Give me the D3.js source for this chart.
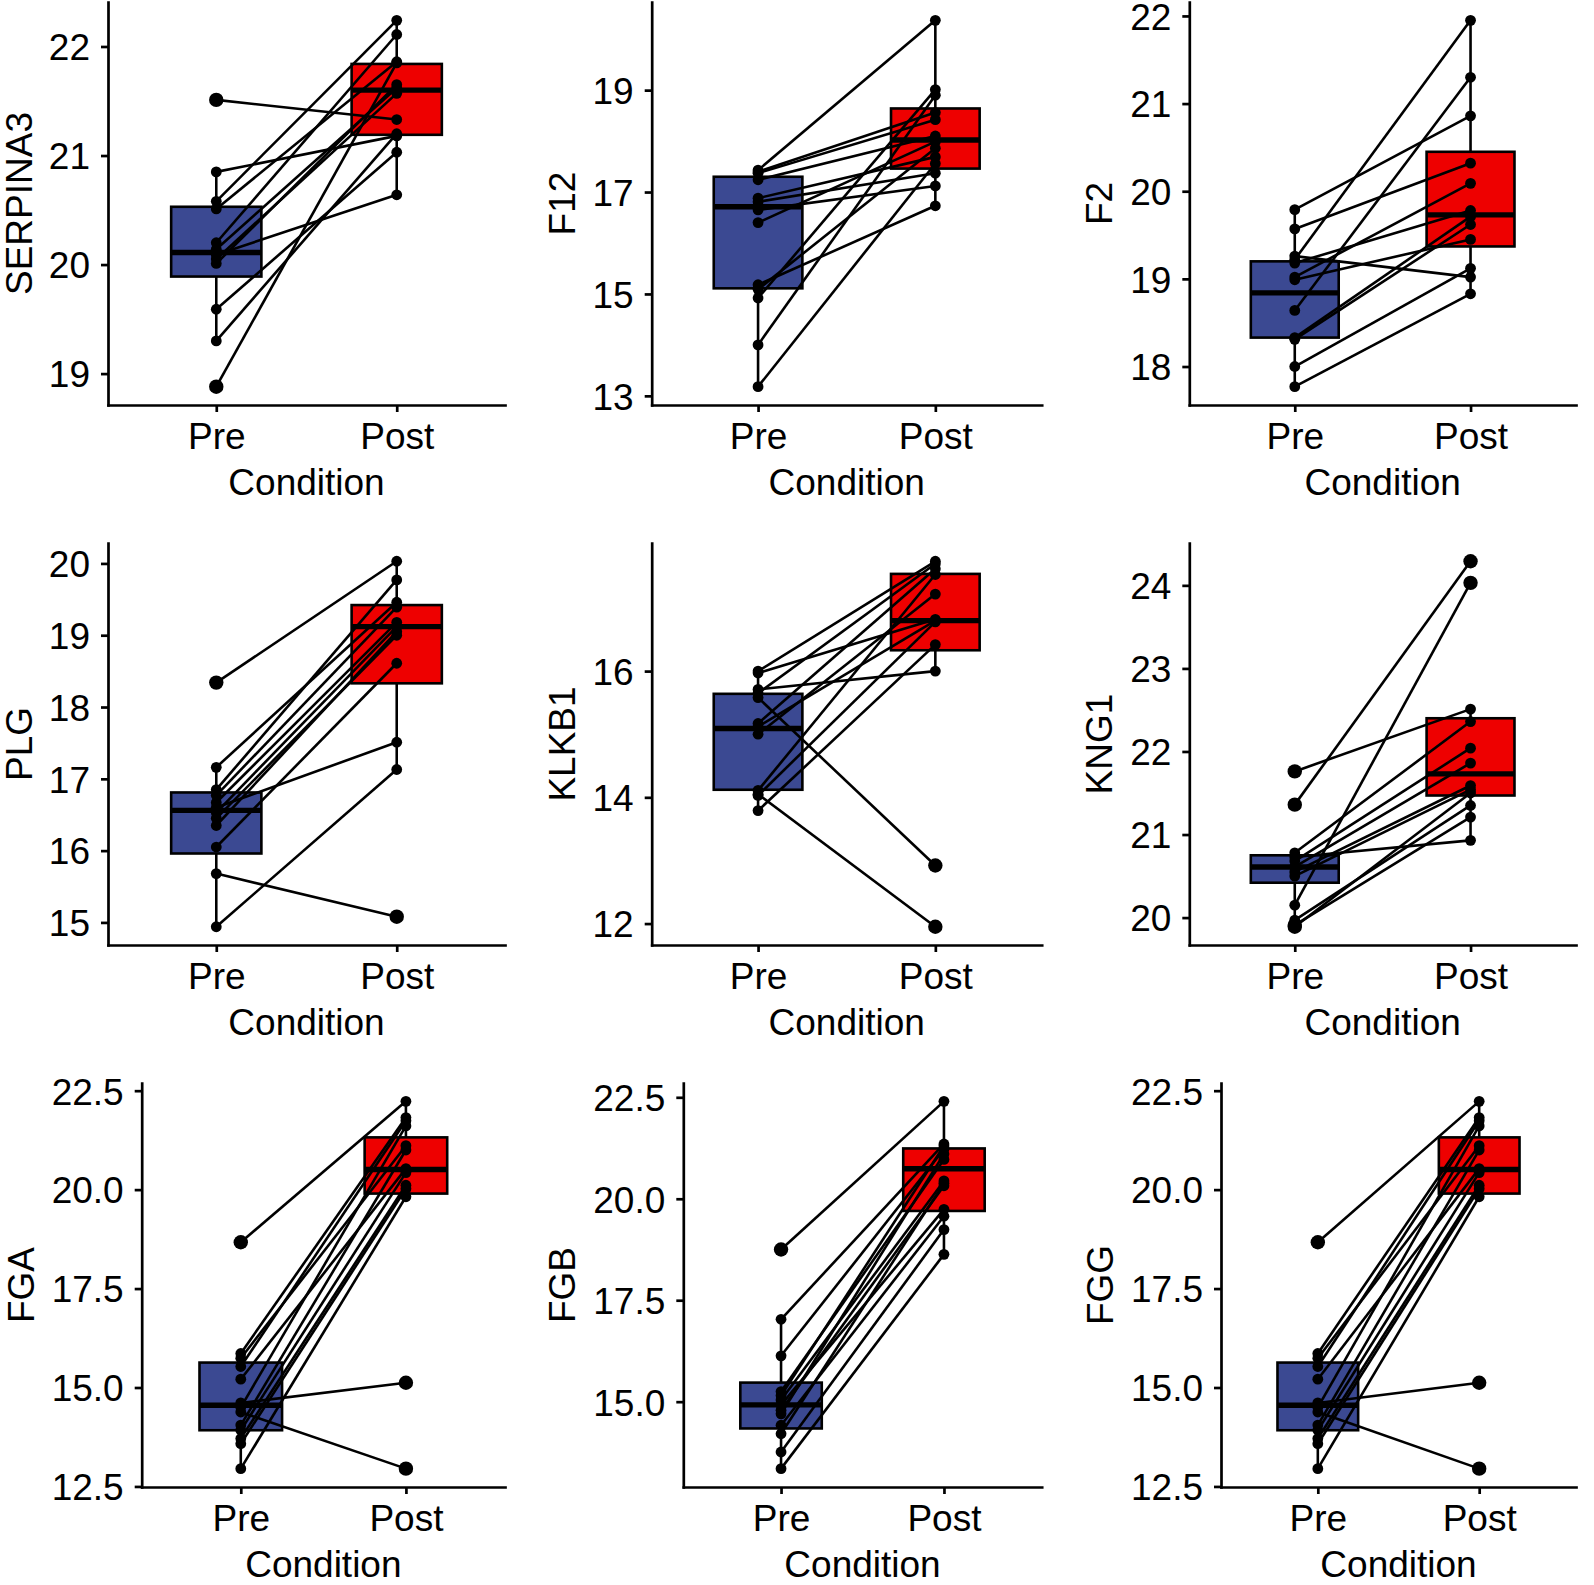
<!DOCTYPE html>
<html>
<head>
<meta charset="utf-8">
<script src="https://cdn.jsdelivr.net/npm/d3@7"></script>
<style>
  body { margin: 0; background: #fff; }
  svg { display: block; font-family: "Liberation Sans", Arial, sans-serif; }
</style>
</head>
<body>
<svg id="chart" width="1594" height="1585"></svg>
<script>
// values, one pair of arrays per protein (same subject order pre/post)
var conditions = ["Pre", "Post"];
var proteins = ["SERPINA3", "F12", "F2", "PLG", "KLKB1", "KNG1", "FGA", "FGB", "FGG"];
var fills = ["#3B4992", "#EE0000"];

var serpina3Pre  = [21.51, 20.85, 20.58, 20.51, 20.20, 20.14, 20.09, 20.05, 20.01, 19.59, 19.30, 18.88];
var serpina3Post = [21.33, 21.18, 22.24, 21.86, 22.11, 21.62, 20.64, 21.57, 21.65, 21.03, 21.20, 21.85];

var f12Pre  = [17.43, 17.40, 17.37, 17.24, 16.88, 16.81, 16.65, 16.40, 15.18, 15.09, 14.92, 14.00, 13.18];
var f12Post = [20.37, 18.56, 18.42, 18.10, 17.69, 17.37, 17.12, 17.99, 16.73, 17.86, 19.01, 18.90, 17.56];

var f2Pre  = [19.79, 19.57, 19.26, 19.22, 19.18, 19.02, 18.99, 18.64, 18.33, 18.31, 18.00, 17.77];
var f2Post = [20.86, 20.32, 19.02, 21.95, 19.78, 20.09, 19.45, 21.30, 19.71, 19.62, 19.12, 18.83];

var plgPre  = [18.34, 17.16, 16.85, 16.77, 16.67, 16.60, 16.53, 16.45, 16.35, 16.05, 15.68, 14.94];
var plgPost = [20.03, 19.46, 19.77, 19.39, 19.18, 17.51, 19.12, 19.00, 19.05, 18.61, 15.08, 17.13];

var klkb1Pre  = [16.00, 15.97, 15.71, 15.65, 15.58, 15.17, 15.12, 15.00, 14.11, 14.05, 14.03, 13.79];
var klkb1Post = [17.74, 16.82, 16.00, 17.70, 12.92, 17.62, 16.80, 17.22, 17.53, 11.95, 16.78, 16.42];

var kng1Pre  = [21.76, 21.36, 20.78, 20.73, 20.68, 20.61, 20.55, 20.50, 20.15, 19.97, 19.91, 19.89];
var kng1Post = [22.51, 24.29, 22.36, 20.93, 22.04, 21.86, 21.59, 21.54, 24.03, 21.35, 21.21, 21.50];

var fgaPre  = [18.67, 15.86, 15.74, 15.53, 15.21, 14.61, 14.50, 14.38, 14.05, 13.92, 13.71, 13.58, 12.95];
var fgaPost = [22.23, 21.82, 21.11, 21.74, 20.53, 15.12, 21.61, 12.95, 21.00, 20.43, 20.11, 20.02, 19.82];

var fgbPre  = [18.75, 17.03, 16.13, 15.25, 15.15, 15.04, 14.92, 14.79, 14.70, 14.42, 14.21, 13.76, 13.35];
var fgbPost = [22.40, 21.35, 21.22, 20.97, 21.30, 20.44, 19.74, 20.32, 21.10, 19.57, 20.38, 19.24, 18.63];

var fggPre  = [18.67, 15.86, 15.74, 15.53, 15.21, 14.61, 14.50, 14.38, 14.05, 13.92, 13.71, 13.58, 12.95];
var fggPost = [22.23, 21.82, 21.11, 21.74, 20.53, 15.12, 21.61, 12.95, 21.00, 20.43, 20.11, 20.02, 19.82];

// box hinges as drawn [lower hinge, median, upper hinge], Pre then Post
var serpina3Box = [[19.89, 20.11, 20.53], [21.19, 21.60, 21.84]];
var f12Box      = [[15.11, 16.71, 17.30], [17.46, 18.02, 18.64]];
var f2Box       = [[18.33, 18.84, 19.20], [19.37, 19.73, 20.45]];
var plgBox      = [[15.96, 16.56, 16.81], [18.33, 19.12, 19.42]];
var klkb1Box    = [[14.12, 15.09, 15.64], [16.33, 16.80, 17.54]];
var kng1Box     = [[20.42, 20.61, 20.75], [21.47, 21.73, 22.40]];
var fgaBox      = [[13.92, 14.55, 15.63], [19.90, 20.51, 21.32]];
var fgbBox      = [[14.34, 14.92, 15.47], [19.70, 20.74, 21.24]];
var fggBox      = [[13.92, 14.55, 15.63], [19.90, 20.51, 21.32]];

var serpina3Ticks = [19, 20, 21, 22];
var f12Ticks      = [13, 15, 17, 19];
var f2Ticks       = [18, 19, 20, 21, 22];
var plgTicks      = [15, 16, 17, 18, 19, 20];
var klkb1Ticks    = [12, 14, 16];
var kng1Ticks     = [20, 21, 22, 23, 24];
var fgaTicks      = [12.5, 15.0, 17.5, 20.0, 22.5];
var fgbTicks      = [15.0, 17.5, 20.0, 22.5];
var fggTicks      = [12.5, 15.0, 17.5, 20.0, 22.5];

var allPre   = [serpina3Pre, f12Pre, f2Pre, plgPre, klkb1Pre, kng1Pre, fgaPre, fgbPre, fggPre];
var allPost  = [serpina3Post, f12Post, f2Post, plgPost, klkb1Post, kng1Post, fgaPost, fgbPost, fggPost];
var allBox   = [serpina3Box, f12Box, f2Box, plgBox, klkb1Box, kng1Box, fgaBox, fgbBox, fggBox];
var allTicks = [serpina3Ticks, f12Ticks, f2Ticks, plgTicks, klkb1Ticks, kng1Ticks, fgaTicks, fgbTicks, fggTicks];
var decimalTicks = [false, false, false, false, false, false, true, true, true];

// panel geometry
var plotLeft  = [[108, 651.7, 1189.3], [108, 651.7, 1189.3], [141.7, 683.3, 1221]];
var plotRight = [505, 1041.7, 1576];
var plotTop    = [2, 543, 1083];
var plotBottom = [405, 945, 1487];
var fontSize = 37;

var svg = d3.select("#chart");

var drawPanel = function(p) {
    var row = Math.floor(p / 3), col = p % 3;
    var left = plotLeft[row][col], right = plotRight[col];
    var top = plotTop[row], bottom = plotBottom[row];
    var pre = allPre[p], post = allPost[p];
    var series = [pre, post];

    var x = d3.scalePoint()
        .domain(conditions)
        .range([left, right])
        .padding(0.6);

    var ext = d3.extent(pre.concat(post));
    var pad = (ext[1] - ext[0]) * 0.05;
    var y = d3.scaleLinear()
        .domain([ext[0] - pad, ext[1] + pad])
        .range([bottom, top]);

    var g = svg.append("g").attr("class", "panel");
    var boxW = x.step() * 0.5;

    // boxplots
    conditions.forEach(function(c, i) {
        var vals = series[i];
        var q1 = allBox[p][i][0], med = allBox[p][i][1], q3 = allBox[p][i][2];
        var iqr = q3 - q1;
        var lo = q1 - 1.5 * iqr, hi = q3 + 1.5 * iqr;
        var inside = vals.filter(function(v) { return v >= lo && v <= hi; });
        var outliers = vals.filter(function(v) { return v < lo || v > hi; });
        var cx = x(c);

        g.append("line")
            .attr("x1", cx).attr("x2", cx)
            .attr("y1", y(q3)).attr("y2", y(d3.max(inside)))
            .attr("stroke", "#000").attr("stroke-width", 2.6);
        g.append("line")
            .attr("x1", cx).attr("x2", cx)
            .attr("y1", y(q1)).attr("y2", y(d3.min(inside)))
            .attr("stroke", "#000").attr("stroke-width", 2.6);

        g.append("rect")
            .attr("x", cx - boxW / 2)
            .attr("y", y(q3))
            .attr("width", boxW)
            .attr("height", y(q1) - y(q3))
            .attr("fill", fills[i])
            .attr("stroke", "#000")
            .attr("stroke-width", 2.6);

        g.append("line")
            .attr("x1", cx - boxW / 2).attr("x2", cx + boxW / 2)
            .attr("y1", y(med)).attr("y2", y(med))
            .attr("stroke", "#000").attr("stroke-width", 5.4);

        g.selectAll(null)
            .data(outliers)
            .enter().append("circle")
            .attr("cx", cx)
            .attr("cy", function(d) { return y(d); })
            .attr("r", 7.2)
            .attr("fill", "#000");
    });

    // paired lines
    g.selectAll(null)
        .data(d3.range(pre.length))
        .enter().append("line")
        .attr("x1", x("Pre")).attr("x2", x("Post"))
        .attr("y1", function(i) { return y(pre[i]); })
        .attr("y2", function(i) { return y(post[i]); })
        .attr("stroke", "#000")
        .attr("stroke-width", 2.6);

    conditions.forEach(function(c, i) {
        g.selectAll(null)
            .data(series[i])
            .enter().append("circle")
            .attr("cx", x(c))
            .attr("cy", function(d) { return y(d); })
            .attr("r", 5.4)
            .attr("fill", "#000");
    });

    // axes
    var yAxis = d3.axisLeft(y)
        .tickValues(allTicks[p])
        .tickSize(7)
        .tickSizeOuter(0)
        .tickPadding(11)
        .tickFormat(decimalTicks[p] ? d3.format(".1f") : d3.format("d"));

    var xAxis = d3.axisBottom(x)
        .tickSize(7)
        .tickSizeOuter(0)
        .tickPadding(11);

    var ya = g.append("g")
        .attr("transform", "translate(" + left + ",0)")
        .call(yAxis);
    var xa = g.append("g")
        .attr("transform", "translate(0," + bottom + ")")
        .call(xAxis);

    [ya, xa].forEach(function(a) {
        a.select(".domain")
            .attr("stroke", "#000")
            .attr("stroke-width", 2.7)
            .attr("stroke-linecap", "square");
        a.selectAll(".tick line")
            .attr("stroke", "#000")
            .attr("stroke-width", 2.7);
        a.selectAll(".tick text")
            .attr("fill", "#000")
            .style("font-size", fontSize + "px")
            .style("font-family", '"Liberation Sans", Arial, sans-serif');
    });
    // centre the digits on the tick
    ya.selectAll(".tick text").attr("dy", "0.36em");

    var labelBox = ya.node().getBBox();
    // keep the rotated title inside the page on the left column
    var titleX = Math.max(left + labelBox.x - 18, 32);

    g.append("text")
        .attr("transform", "translate(" + titleX + "," + ((top + bottom) / 2) + ") rotate(-90)")
        .attr("text-anchor", "middle")
        .style("font-size", fontSize + "px")
        .text(proteins[p]);

    g.append("text")
        .attr("x", (left + right) / 2)
        .attr("y", bottom + 90)
        .attr("text-anchor", "middle")
        .style("font-size", fontSize + "px")
        .text("Condition");
};

d3.range(proteins.length).forEach(drawPanel);
</script>
</body>
</html>
